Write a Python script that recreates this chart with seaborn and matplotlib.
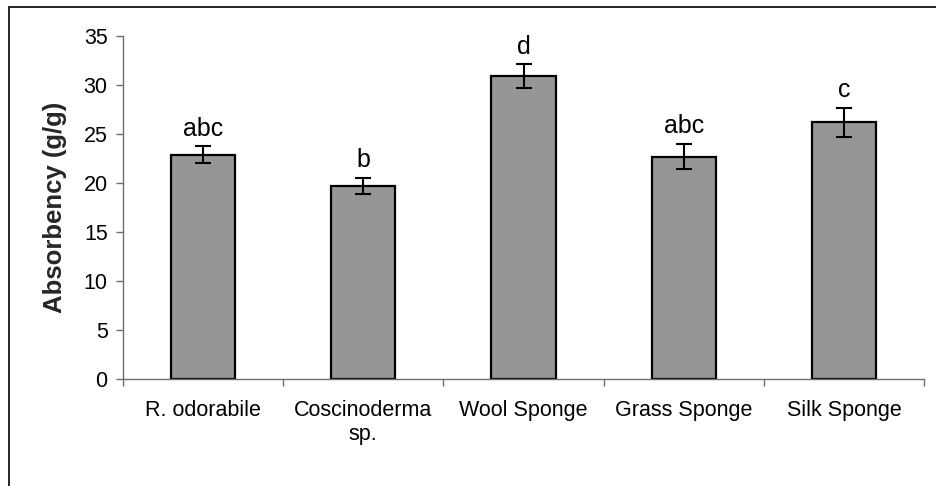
import matplotlib
matplotlib.use("Agg")
import matplotlib.pyplot as plt
from matplotlib.patches import Rectangle
import seaborn as sns
import pandas as pd
import numpy as np

# Absorbency of natural and commercial sponges (mean ± SE)
categories = ["R. odorabile", "Coscinoderma\nsp.", "Wool Sponge", "Grass Sponge", "Silk Sponge"]
absorbency = [22.9, 19.7, 30.9, 22.7, 26.2]
std_error = [0.85, 0.85, 1.2, 1.3, 1.5]
groups = ["abc", "b", "d", "abc", "c"]

sns.set_theme(style="white")
plt.rcParams["font.family"] = ["Liberation Sans", "DejaVu Sans"]

df = pd.DataFrame({"category": categories, "absorbency": absorbency})

fig = plt.figure(figsize=(9.36, 4.86), dpi=100)
ax = fig.add_axes([123 / 936, 1 - 379 / 486, (924 - 123) / 936, (379 - 36) / 486])

sns.barplot(data=df, x="category", y="absorbency", color="#969696",
            saturation=1, edgecolor="black", linewidth=1.6, width=0.4,
            errorbar=None, ax=ax)

xpos = np.arange(len(categories))
ax.errorbar(xpos, absorbency, yerr=std_error, fmt="none", ecolor="black",
            elinewidth=1.5, capsize=5.8, capthick=1.5, zorder=5)

for x, m, e, g in zip(xpos, absorbency, std_error, groups):
    ax.annotate(g, xy=(x, m + e), xytext=(0, 7.5), textcoords="offset points",
                ha="center", va="baseline", fontsize=18, color="black")

ax.set_xlim(-0.5, len(categories) - 0.5)
ax.set_ylim(0, 35)
ax.set_yticks(np.arange(0, 36, 5))
ax.set_xlabel("")
ax.set_ylabel("Absorbency (g/g)", fontsize=18.5, fontweight="bold", labelpad=12)

for side in ("top", "right"):
    ax.spines[side].set_visible(False)
for side in ("left", "bottom"):
    ax.spines[side].set_color("#6e6e6e")
    ax.spines[side].set_linewidth(1.0)

ax.tick_params(axis="y", which="major", direction="out", length=5, width=1,
               color="#6e6e6e", labelsize=15.5, labelcolor="black", pad=6, left=True)
ax.tick_params(axis="x", which="major", length=0, labelsize=15.5,
               labelcolor="black", pad=15)
ax.set_xticks(np.arange(-0.5, len(categories), 1.0), minor=True)
ax.tick_params(axis="x", which="minor", direction="out", length=5, width=1,
               color="#6e6e6e", bottom=True)

# frame around the chart area
fig.patches.append(Rectangle((9 / 936, -0.05), 1.2, 1 - 7 / 486 + 0.05,
                             transform=fig.transFigure, fill=False,
                             edgecolor="black", linewidth=1.2))

fig.savefig("out.png", dpi=100)
